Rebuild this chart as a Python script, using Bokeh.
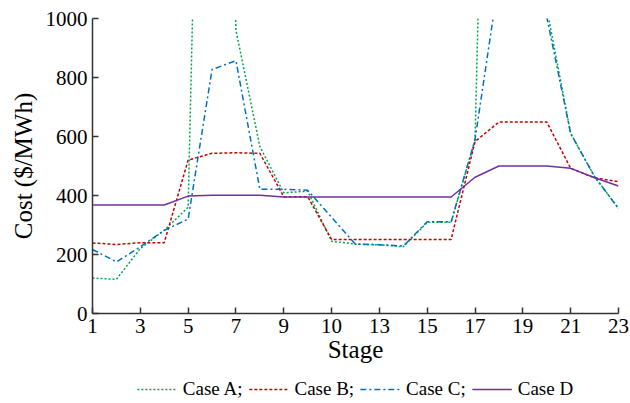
from bokeh.plotting import figure
from bokeh.layouts import column
from bokeh.models import Legend, LegendItem, FixedTicker
from bokeh.embed import file_html
from bokeh.resources import INLINE

stages = list(range(1, 24))
case_a = [120, 116, 220, 282, 360, 3900, 960, 566, 409, 415, 245, 235, 233, 226, 309, 309, 588, 3950, 4000, 1034, 610, 464, 356]
case_b = [239, 234, 240, 240, 520, 543, 545, 543, 396, 396, 251, 251, 251, 251, 251, 251, 583, 649, 649, 649, 492, 460, 447]
case_c = [217, 175, 226, 282, 320, 827, 857, 421, 421, 418, 326, 235, 233, 229, 311, 311, 590, 1135, 1300, 1005, 610, 464, 356]
case_d = [368, 368, 368, 368, 398, 401, 401, 401, 395, 395, 395, 395, 395, 395, 395, 395, 462, 500, 500, 500, 492, 460, 432]
x_ticks = [1, 3, 5, 7, 9, 11, 13, 15, 17, 19, 21, 23]
x_tick_labels = ["1", "3", "5", "7", "9", "10", "13", "15", "17", "19", "21", "23"]
y_ticks = [0, 200, 400, 600, 800, 1000]
labels = ["Case A;", "Case B;", "Case C;", "Case D"]

FONT = "Liberation Serif"
styles = [dict(line_color="#00a651", line_width=1.5, line_dash="2 2"),
          dict(line_color="#cc0000", line_width=1.5, line_dash="3 2"),
          dict(line_color="#0070c0", line_width=1.5, line_dash="6 3 2 3"),
          dict(line_color="#7030a0", line_width=1.5)]
series = [case_a, case_b, case_c, case_d]

p = figure(width=630, height=375, x_range=(1, 23), y_range=(0, 1000),
           output_backend="svg", toolbar_location=None,
           min_border_left=92, min_border_top=18, min_border_right=12, min_border_bottom=62)
p.outline_line_color = None
p.grid.visible = False
p.background_fill_color = "white"

for ys, st in zip(series, styles):
    p.line(stages, ys, **st)

for ax in (p.xaxis[0], p.yaxis[0]):
    ax.major_label_text_font = FONT
    ax.major_label_text_font_size = "21px"
    ax.major_label_text_color = "black"
    ax.axis_label_text_font = FONT
    ax.axis_label_text_font_size = "25px"
    ax.axis_label_text_font_style = "normal"
    ax.axis_label_text_color = "black"
    ax.axis_line_color = "#333333"
    ax.axis_line_width = 1.5
    ax.major_tick_line_color = "#333333"
    ax.major_tick_line_width = 1.5
    ax.major_tick_in = 6
    ax.major_tick_out = 0
    ax.minor_tick_in = 0
    ax.minor_tick_out = 0
    ax.major_label_standoff = 5

p.xaxis.ticker = FixedTicker(ticks=x_ticks)
p.xaxis.major_label_overrides = {t: s for t, s in zip(x_ticks, x_tick_labels)}
p.yaxis.ticker = FixedTicker(ticks=y_ticks)
p.xaxis.axis_label = "Stage"
p.yaxis.axis_label = "Cost ($/MWh)"
p.xaxis.axis_label_standoff = 0
p.yaxis.axis_label_standoff = 6

# legend strip below the chart
lg = figure(width=630, height=28, x_range=(-10, -5), y_range=(0, 1000),
            output_backend="svg", toolbar_location=None,
            x_axis_location=None, y_axis_location=None, min_border=0)
lg.outline_line_color = None
lg.grid.visible = False
proxies = [lg.line(stages, ys, **st) for ys, st in zip(series, styles)]

legend = Legend(items=[LegendItem(label=l, renderers=[r]) for l, r in zip(labels, proxies)],
                orientation="horizontal", location="center")
legend.label_text_font = FONT
legend.label_text_font_size = "19px"
legend.label_text_color = "black"
legend.border_line_color = None
legend.background_fill_alpha = 0
legend.glyph_width = 40
legend.glyph_height = 18
legend.label_height = 18
legend.spacing = 6
legend.padding = 0
legend.margin = 0
legend.label_standoff = 6
lg.add_layout(legend, "center")

layout = column(p, lg, spacing=0)
open("out.html", "w").write(file_html(layout, INLINE))
